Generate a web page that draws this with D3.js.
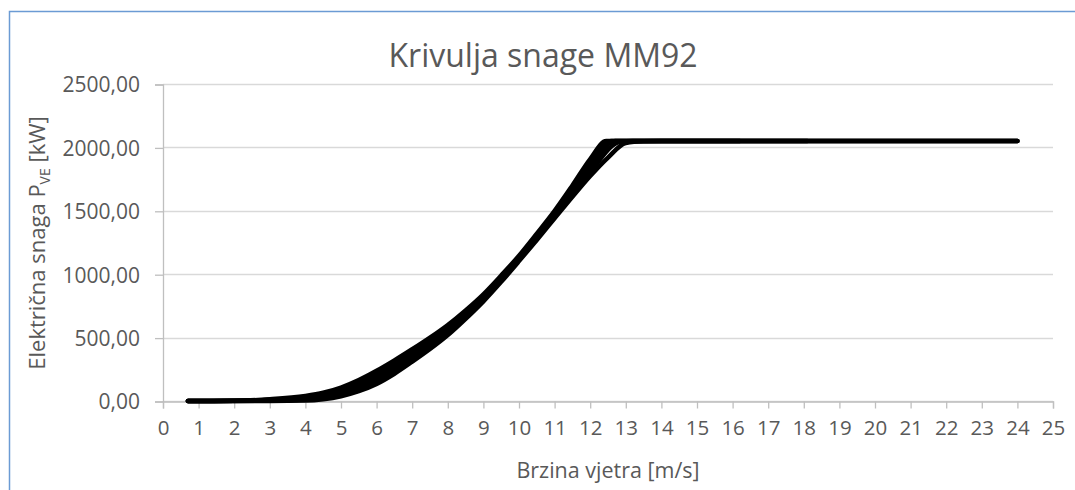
<!DOCTYPE html>
<html>
<head>
<meta charset="utf-8">
<script src="https://cdn.jsdelivr.net/npm/d3@7"></script>
<style>
  body { margin: 0; background: #fff; }
  svg text { font-family: "Open Sans", "Noto Sans", sans-serif; fill: #595959; }
</style>
</head>
<body>
<svg class="chart" width="1075" height="490"></svg>
<script>
// shared speeds for the rising part of the curve (m/s)
var rampSpeeds = [0.7, 1, 2, 3, 4, 4.5, 5, 5.5, 6, 6.5, 7, 7.5, 8, 8.5, 9, 9.5, 10, 10.5, 11, 11.5, 12];

// power readings (kW) for several overlapping curves, lower to upper edge of the band
var powerLow  = [0, 0, 0, 0, 3, 14, 38, 78, 135, 215, 310, 410, 520, 648, 786, 940, 1103, 1270, 1440, 1610, 1774];
var powerQ1   = [0, 0, 0, 3, 11, 28, 56, 99, 158, 240, 335, 435, 540, 665, 800, 952, 1114, 1282, 1455, 1632, 1807];
var powerMid  = [0, 0, 1, 7, 20, 41, 72, 120, 183, 266, 360, 458, 562, 683, 815, 965, 1125, 1295, 1470, 1655, 1840];
var powerQ3   = [0, 0, 1, 10, 30, 53, 89, 142, 210, 292, 384, 479, 581, 699, 828, 977, 1135, 1307, 1485, 1677, 1874];
var powerHigh = [0, 0, 2, 14, 40, 65, 106, 165, 238, 320, 408, 500, 600, 715, 842, 990, 1146, 1320, 1500, 1700, 1908];

// the flat part after rated power, per curve
var tailLowSpeeds  = [12.5, 13, 13.5, 14, 24];
var tailLowPower   = [1920, 2035, 2048, 2050, 2050];
var tailQ1Speeds   = [12.85, 13.2, 24];
var tailQ1Power    = [2045, 2050, 2050];
var tailMidSpeeds  = [12.7, 16.2];
var tailMidPower   = [2050, 2050];
var tailQ3Speeds   = [12.6, 24];
var tailQ3Power    = [2050, 2050];
var tailHighSpeeds = [12.45, 18.1];
var tailHighPower  = [2050, 2050];

var xTicks = d3.range(0, 26);
var yTicks = [0, 500, 1000, 1500, 2000, 2500];

function makeSeries(power, tailSpeeds, tailPower) {
    var pts = [];
    rampSpeeds.forEach((s, i) => pts.push([s, power[i]]));
    tailSpeeds.forEach((s, i) => pts.push([s, tailPower[i]]));
    return pts;
}

var series = [
    makeSeries(powerLow, tailLowSpeeds, tailLowPower),
    makeSeries(powerQ1, tailQ1Speeds, tailQ1Power),
    makeSeries(powerMid, tailMidSpeeds, tailMidPower),
    makeSeries(powerQ3, tailQ3Speeds, tailQ3Power),
    makeSeries(powerHigh, tailHighSpeeds, tailHighPower)
];

var svg = d3.select(".chart");
var plotLeft = 163, plotRight = 1053, plotTop = 84, plotBottom = 401;

// chart frame (only top and left edges fall inside the picture)
svg.append("rect")
    .attr("x", 9.5).attr("y", 11.5)
    .attr("width", 1200).attr("height", 600)
    .attr("fill", "none")
    .attr("stroke", "#6b9bd4")
    .attr("stroke-width", 1.5);

var x = d3.scaleLinear().domain([0, 25]).range([plotLeft, plotRight]);
var y = d3.scaleLinear().domain([0, 2500]).range([plotBottom, plotTop]);

// horizontal gridlines
svg.append("g")
    .selectAll("line")
    .data(yTicks)
    .enter()
    .append("line")
    .attr("x1", plotLeft).attr("x2", plotRight)
    .attr("y1", d => Math.round(y(d)) + 0.5)
    .attr("y2", d => Math.round(y(d)) + 0.5)
    .attr("stroke", "#d9d9d9")
    .attr("stroke-width", 1.3);

// y axis
var yAxis = svg.append("g")
    .attr("transform", "translate(" + plotLeft + ",0.5)")
    .call(d3.axisLeft(y).tickValues(yTicks).tickSize(8).tickPadding(15)
        .tickFormat(d => d3.format(".2f")(d).replace(".", ",")));
yAxis.select(".domain").attr("stroke", "#bfbfbf").attr("stroke-width", 1.3);
yAxis.selectAll(".tick line").attr("stroke", "#bfbfbf").attr("stroke-width", 1.3);
yAxis.selectAll(".tick text").style("font-size", "21px").attr("dy", "0.35em");

// x axis
var xAxis = svg.append("g")
    .attr("transform", "translate(0," + (plotBottom + 0.5) + ")")
    .call(d3.axisBottom(x).tickValues(xTicks).tickSize(7).tickPadding(12));
xAxis.select(".domain").attr("stroke", "#bfbfbf").attr("stroke-width", 1.3);
xAxis.selectAll(".tick line").attr("stroke", "#bfbfbf").attr("stroke-width", 1.3);
xAxis.selectAll(".tick text").style("font-size", "20.5px");

// power curves
var line = d3.line()
    .x(d => x(d[0]))
    .y(d => y(d[1]))
    .curve(d3.curveMonotoneX);

svg.append("g")
    .selectAll("path")
    .data(series)
    .enter()
    .append("path")
    .attr("d", line)
    .attr("fill", "none")
    .attr("stroke", "#000")
    .attr("stroke-width", 4.5)
    .attr("stroke-linecap", "round")
    .attr("stroke-linejoin", "round");

// title
svg.append("text")
    .attr("x", 543).attr("y", 67)
    .attr("text-anchor", "middle")
    .style("font-size", "32px")
    .text("Krivulja snage MM92");

// x axis title
svg.append("text")
    .attr("x", (plotLeft + plotRight) / 2).attr("y", 478)
    .attr("text-anchor", "middle")
    .style("font-size", "21.5px")
    .text("Brzina vjetra [m/s]");

// y axis title with subscript
var yt = svg.append("text")
    .attr("transform", "translate(45,243) rotate(-90)")
    .attr("text-anchor", "middle")
    .style("font-size", "22px");
yt.append("tspan").text("Električna snaga P");
yt.append("tspan").attr("dy", 5).style("font-size", "14px").text("VE");
yt.append("tspan").attr("dy", -5).text(" [kW]");
</script>
</body>
</html>
